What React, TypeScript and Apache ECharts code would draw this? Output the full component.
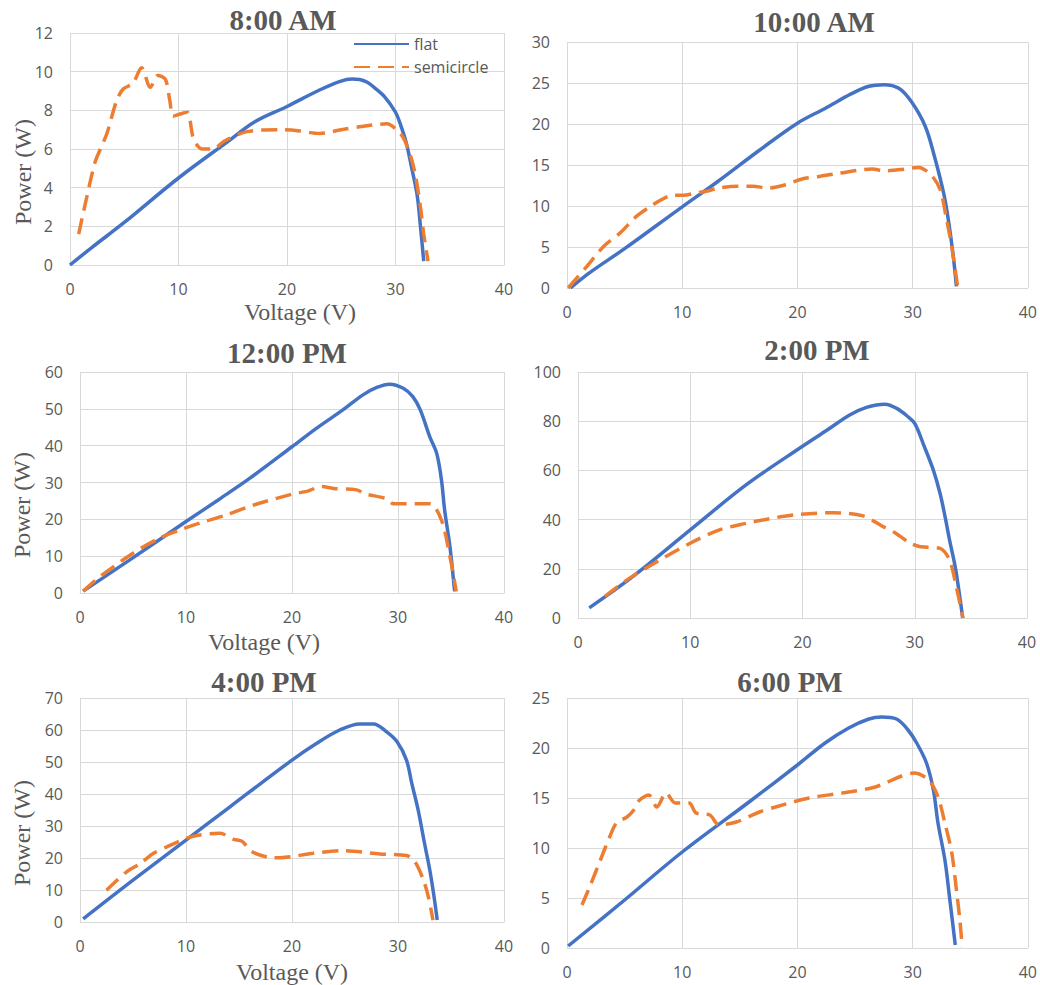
import React, { useEffect, useRef } from "react";
import * as echarts from "echarts";

const seriesNames = ["flat", "semicircle"];
const panelTitles = ["8:00 AM", "10:00 AM", "12:00 PM", "2:00 PM", "4:00 PM", "6:00 PM"];
const yMaxes = [12, 30, 60, 100, 70, 25];
const yIntervals = [2, 5, 10, 20, 10, 5];
const xTicks = { min: 0, max: 40, interval: 10 };

const flat8am = [[0,0],[2,0.9],[5,2.2],[10,4.5],[14.7,6.45],[17,7.4],[20,8.2],[23,9.05],[24.9,9.5],[26,9.62],[26.7,9.6],[27.4,9.45],[28,9.2],[29,8.7],[30,7.9],[30.5,7.2],[31,6.3],[31.5,5.0],[32,3.6],[32.3,2.0],[32.6,0.2]];
const semi8am = [[0.8,1.6],[1.5,3.4],[2.3,5.3],[2.8,6.0],[3.4,6.8],[4.3,8.5],[4.9,9.1],[5.8,9.4],[6.6,10.2],[7.4,9.2],[8.1,9.8],[8.8,9.6],[9.2,8.5],[9.5,7.7],[10.1,7.8],[10.8,7.9],[11.4,6.5],[12.2,6.0],[13.2,6.0],[14.2,6.4],[16.3,6.9],[19.35,7.0],[21,6.95],[23.0,6.8],[25.0,7.0],[26.7,7.15],[29.2,7.3],[30.1,7.0],[30.7,6.6],[31.3,5.8],[31.8,4.75],[32.3,3.0],[32.6,1.6],[33.0,0.2]];

const flat10am = [[0.3,0],[2,1.9],[5,4.8],[10,9.9],[13,12.9],[16.7,16.8],[20,20.1],[22.4,21.9],[24.7,23.7],[26.2,24.6],[27.5,24.8],[28.8,24.35],[29.9,22.7],[31.1,19.7],[31.9,16.0],[32.7,11.5],[33.1,8.3],[33.5,4.2],[33.8,0.2]];
const semi10am = [[0.1,0],[1.7,2.6],[3.2,5.1],[4.6,6.7],[6.0,8.7],[7.2,9.9],[8.1,10.7],[9.2,11.3],[10.1,11.3],[11.2,11.6],[12.1,11.8],[13.2,12.2],[14.9,12.4],[16.1,12.4],[17.5,12.2],[19.0,12.6],[20.4,13.3],[21.9,13.6],[23.6,14.0],[26.5,14.5],[27.6,14.3],[29.3,14.5],[30.5,14.7],[31.6,13.8],[32.4,11.95],[32.9,8.7],[33.4,5.0],[33.9,0.2]];

const flat12pm = [[0.3,0.5],[4.7,9.0],[10,19.4],[13,25.2],[16.0,31.1],[20,39.7],[22.3,44.7],[24.8,49.7],[26.7,53.8],[28.0,55.8],[29.2,56.7],[30.5,55.6],[31.4,53.3],[32.1,49.7],[33.0,42.4],[33.65,37.9],[34.1,30.7],[34.4,22.5],[34.9,12.6],[35.3,1.7],[35.35,0.5]];
const semi12pm = [[0.3,0.5],[1.9,4.5],[5.0,10.8],[7.5,14.9],[9.4,17.1],[11.3,19.0],[13.8,21.2],[16.4,23.9],[20.1,26.9],[21.4,27.6],[22.8,28.9],[23.9,28.4],[26.1,28.0],[26.9,26.9],[28.8,25.7],[29.6,24.2],[33.0,24.2],[34.1,19.8],[34.9,9.9],[35.5,0.4]];

const flat2pm = [[1.0,4.1],[4.9,16.9],[10,35.8],[15,54.2],[20,69.8],[22.2,76.4],[24.2,82.5],[25.7,85.6],[27.35,86.9],[28.4,85.2],[29.4,81.8],[30.0,79.1],[30.8,70.3],[31.65,60.2],[32.25,50.7],[32.7,41.2],[33.1,31.7],[33.6,20.9],[33.97,10.0],[34.27,0]];
const semi2pm = [[2.4,8.8],[4.6,16.2],[7.3,23.6],[10.0,30.4],[12.6,35.8],[15,38.5],[16.2,39.6],[19.2,41.9],[22.7,42.8],[25.4,41.5],[27.2,37.1],[28.1,35.1],[29.6,30.4],[30.5,29.0],[32.25,28.3],[33.1,23.6],[33.7,12.7],[34.3,0]];

const flat4pm = [[0.3,1.0],[5.0,13.1],[10.0,25.6],[14.15,36.0],[20,50.6],[22.3,55.8],[24.5,60.0],[26.4,61.9],[27.7,61.9],[28.9,59.5],[29.9,56.4],[30.8,50.6],[31.3,43.3],[31.9,35.0],[32.5,24.6],[33.0,16.25],[33.4,7.9],[33.7,0.6]];
const semi4pm = [[2.5,9.9],[4.4,15.7],[5.7,18.3],[6.9,21.4],[8.2,23.5],[10.0,26.1],[11.3,27.2],[13.2,27.7],[14.5,25.8],[15.3,25.2],[16.2,22.0],[17.9,20.2],[18.9,20.1],[22.0,21.5],[24.8,22.3],[28.3,21.25],[30.8,20.8],[31.6,18.8],[32.4,13.1],[32.86,7.9],[33.3,0.6]];

const flat6pm = [[0.1,0.2],[5,4.8],[10,9.6],[15.8,14.6],[20,18.3],[22.4,20.5],[24.45,22.0],[26.2,22.9],[27.3,23.1],[28.6,22.9],[29.6,21.8],[30.35,20.5],[31.2,18.5],[31.8,15.8],[32.2,12.5],[32.8,8.8],[33.2,5.1],[33.7,0.3]];
const semi6pm = [[1.3,4.3],[2.0,6.2],[2.9,8.8],[3.7,11.1],[4.3,12.5],[5.2,13.1],[5.8,13.8],[6.3,14.8],[7.1,15.3],[7.8,14.1],[8.6,15.5],[9.4,14.5],[10.6,14.5],[11.2,13.5],[12.4,13.3],[13.2,12.3],[14.7,12.6],[16.7,13.6],[18.1,14.1],[21.0,15.0],[23.9,15.5],[26.75,16.1],[29.05,17.2],[30.1,17.5],[31.4,16.8],[32.2,15.1],[32.8,12.5],[33.4,9.5],[33.8,5.8],[34.1,2.8],[34.3,0.1]];

const flatData = [flat8am, flat10am, flat12pm, flat2pm, flat4pm, flat6pm];
const semiData = [semi8am, semi10am, semi12pm, semi2pm, semi4pm, semi6pm];

// layout (pixels)
const grids = [
  { left: 70, top: 33, width: 434, height: 232 },
  { left: 567, top: 42, width: 463, height: 246 },
  { left: 80, top: 372, width: 424, height: 221 },
  { left: 578, top: 372, width: 449, height: 246 },
  { left: 80, top: 698, width: 424, height: 224 },
  { left: 567, top: 698, width: 463, height: 250 },
];
const titlePos = [[283, 20], [814, 22], [287, 353], [817, 350], [264, 682], [790, 682]];
const xTitlePos = [[300, 312], [264, 642], [292, 972]];
const yTitlePos = [[23, 172], [22, 505], [22, 833]];

const GRID = "#D9D9D9";
const TEXT = "#595959";
const BLUE = "#4472C4";
const ORANGE = "#ED7D31";

export default function App() {
  const ref = useRef<HTMLDivElement>(null);
  useEffect(() => {
    if (!ref.current) return;
    const chart = echarts.init(ref.current, null, { renderer: "svg" });
    const xAxis = grids.map((_, i) => ({
      type: "value",
      gridIndex: i,
      min: xTicks.min,
      max: xTicks.max,
      interval: xTicks.interval,
      axisLine: { show: true, lineStyle: { color: GRID, width: 1 } },
      axisTick: { show: false },
      splitLine: { show: true, lineStyle: { color: GRID, width: 1 } },
      axisLabel: { color: TEXT, fontSize: 16, fontFamily: "Open Sans", margin: 16 },
    }));
    const yAxis = grids.map((_, i) => ({
      type: "value",
      gridIndex: i,
      min: 0,
      max: yMaxes[i],
      interval: yIntervals[i],
      axisLine: { show: false },
      axisTick: { show: false },
      splitLine: { show: true, lineStyle: { color: GRID, width: 1 } },
      axisLabel: { color: TEXT, fontSize: 16, fontFamily: "Open Sans", margin: 17 },
    }));
    const series: any[] = [];
    grids.forEach((_, i) => {
      series.push({
        name: seriesNames[0],
        type: "line",
        xAxisIndex: i,
        yAxisIndex: i,
        data: flatData[i],
        symbol: "none",
        smooth: 0.35,
        lineStyle: { color: BLUE, width: 3.5 },
        itemStyle: { color: BLUE },
      });
      series.push({
        name: seriesNames[1],
        type: "line",
        xAxisIndex: i,
        yAxisIndex: i,
        data: semiData[i],
        symbol: "none",
        smooth: 0.3,
        lineStyle: { color: ORANGE, width: 3.5, type: [16, 8] },
        itemStyle: { color: ORANGE },
      });
    });
    const graphic: any[] = [];
    panelTitles.forEach((t, i) => {
      graphic.push({
        type: "text",
        x: titlePos[i][0],
        y: titlePos[i][1],
        style: {
          text: t,
          fill: TEXT,
          font: "bold 29px 'Liberation Serif', 'Times New Roman', serif",
          textAlign: "center",
          textVerticalAlign: "middle",
        },
      });
    });
    xTitlePos.forEach((p) => {
      graphic.push({
        type: "text",
        x: p[0],
        y: p[1],
        style: {
          text: "Voltage (V)",
          fill: TEXT,
          font: "24px 'Liberation Serif', 'Times New Roman', serif",
          textAlign: "center",
          textVerticalAlign: "middle",
        },
      });
    });
    yTitlePos.forEach((p) => {
      graphic.push({
        type: "text",
        x: p[0],
        y: p[1],
        rotation: Math.PI / 2,
        style: {
          text: "Power (W)",
          fill: TEXT,
          font: "24px 'Liberation Serif', 'Times New Roman', serif",
          textAlign: "center",
          textVerticalAlign: "middle",
        },
      });
    });
    chart.setOption({
      animation: false,
      backgroundColor: "#ffffff",
      grid: grids.map((g) => ({ ...g, containLabel: false })),
      xAxis,
      yAxis,
      legend: {
        data: seriesNames,
        orient: "vertical",
        left: 348,
        top: 31,
        itemWidth: 55,
        itemHeight: 16,
        itemGap: 7,
        itemStyle: { opacity: 0 },
        textStyle: { color: TEXT, fontSize: 16, fontFamily: "Open Sans" },
      },
      series,
      graphic,
    });
    return () => chart.dispose();
  }, []);
  return (
    <div
      ref={ref}
      style={{ position: "absolute", left: 0, top: 0, width: 1040, height: 985 }}
    />
  );
}
